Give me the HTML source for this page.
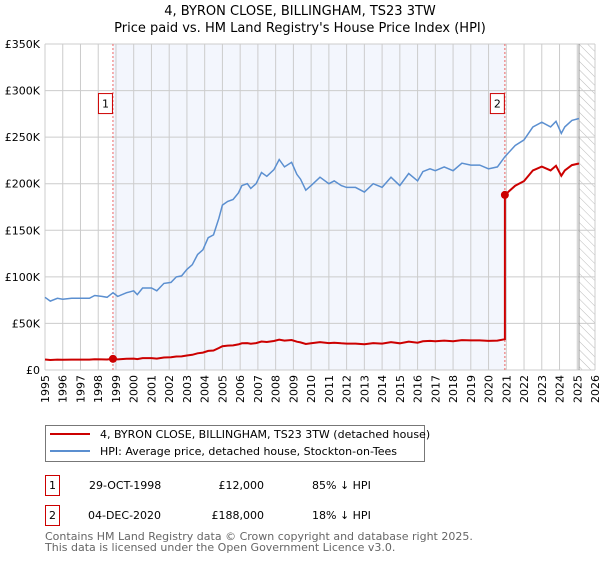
<!DOCTYPE html>
<html><head><meta charset="utf-8"><style>
body{margin:0;background:#fff;font-family:"DejaVu Sans","Liberation Sans",sans-serif;}
svg text{font-family:"DejaVu Sans","Liberation Sans",sans-serif;}
</style></head><body>
<svg id="c" width="600" height="560" viewBox="0 0 600 560">
<defs><pattern id="hatch" width="6" height="6" patternUnits="userSpaceOnUse" patternTransform="rotate(-45)"><line x1="0" y1="0" x2="0" y2="6" stroke="#bbb" stroke-width="1"/></pattern></defs>
<text x="300" y="15" text-anchor="middle" font-size="13">4, BYRON CLOSE, BILLINGHAM, TS23 3TW</text>
<text x="300" y="32" text-anchor="middle" font-size="13">Price paid vs. HM Land Registry's House Price Index (HPI)</text>
<g id="plot"></g>
<g>
<rect x="45.5" y="425.5" width="379" height="36" fill="#fff" stroke="#777"/>
<line x1="50" y1="434" x2="90" y2="434" stroke="#cc0000" stroke-width="2"/>
<text x="100" y="438" font-size="11">4, BYRON CLOSE, BILLINGHAM, TS23 3TW (detached house)</text>
<line x1="50" y1="451" x2="90" y2="451" stroke="#5b8fd0" stroke-width="2"/>
<text x="100" y="455" font-size="11">HPI: Average price, detached house, Stockton-on-Tees</text>
</g>
<g font-size="11">
<rect x="45.5" y="475.5" width="14" height="20" fill="#fff" stroke="#cc0000"/><text x="52.5" y="489" text-anchor="middle">1</text>
<text x="89" y="489">29-OCT-1998</text><text x="264" y="489" text-anchor="end">£12,000</text><text x="312" y="489">85% ↓ HPI</text>
<rect x="45.5" y="505.5" width="14" height="20" fill="#fff" stroke="#cc0000"/><text x="52.5" y="519" text-anchor="middle">2</text>
<text x="88" y="519">04-DEC-2020</text><text x="264" y="519" text-anchor="end">£188,000</text><text x="312" y="519">18% ↓ HPI</text>
</g>
<text x="45" y="540" font-size="11" fill="#666">Contains HM Land Registry data © Crown copyright and database right 2025.</text>
<text x="45" y="551" font-size="11" fill="#666">This data is licensed under the Open Government Licence v3.0.</text>
</svg>
<script>
const hpiYears=[1995,1995.3,1995.7,1996,1996.5,1997,1997.5,1997.8,1998.2,1998.5,1998.83,1999.1,1999.6,2000,2000.2,2000.5,2001,2001.3,2001.7,2002.1,2002.4,2002.7,2003,2003.3,2003.6,2003.9,2004.2,2004.5,2004.8,2005,2005.3,2005.6,2005.9,2006.1,2006.4,2006.6,2006.9,2007.2,2007.5,2007.9,2008.2,2008.5,2008.9,2009.2,2009.4,2009.7,2010,2010.5,2011,2011.3,2011.7,2012,2012.5,2013,2013.5,2014,2014.5,2015,2015.5,2016,2016.3,2016.7,2017,2017.5,2018,2018.5,2019,2019.5,2020,2020.5,2020.92,2021.5,2022,2022.5,2023,2023.5,2023.8,2024.1,2024.3,2024.7,2025.1];
const hpiValues=[78,74,77,76,77,77,77,80,79,78,83,79,83,85,81,88,88,85,93,94,100,101,108,113,124,129,142,145,163,177,181,183,190,198,200,195,200,212,208,215,226,218,223,210,205,193,198,207,200,203,198,196,196,191,200,196,207,198,211,203,213,216,214,218,214,222,220,220,216,218,229,241,247,261,266,261,267,254,261,268,270];
const saleYears=[1998.83,2020.92];
const salePrices=[12000,188000];
const yTicks=[0,50000,100000,150000,200000,250000,300000,350000];
const yTickLabels=["£0","£50K","£100K","£150K","£200K","£250K","£300K","£350K"];
const xTicks=[];for(let y=1995;y<=2026;y++)xTicks.push(y);
const X0=45,X1=595,Y0=370,Y1=44,YMIN=1995,YMAX=2026,VMAX=350000;
const sx=v=>X0+(v-YMIN)/(YMAX-YMIN)*(X1-X0);
const sy=v=>Y0-v/VMAX*(Y0-Y1);
const NS="http://www.w3.org/2000/svg";
const g=document.getElementById('plot');
function el(t,a,p){const e=document.createElementNS(NS,t);for(const k in a)e.setAttribute(k,a[k]);(p||g).appendChild(e);return e;}
let e;
e=el('rect',{x:sx(saleYears[0]),y:Y1,width:sx(saleYears[1])-sx(saleYears[0]),height:Y0-Y1,fill:'#f3f6fd'});

e=el('rect',{x:sx(2025.1),y:Y1,width:X1-sx(2025.1),height:Y0-Y1,fill:'url(#hatch)'});

xTicks.forEach(t=>{e=el('line',{x1:sx(t),x2:sx(t),y1:Y1,y2:Y0,stroke:'#ccc'});

e=el('text',{x:0,y:0,'font-size':11,'text-anchor':'end',transform:`translate(${sx(t)+4},${Y0+5}) rotate(-90)`});e.textContent=t;
});
yTicks.forEach((t,i)=>{e=el('line',{x1:X0,x2:X1,y1:sy(t),y2:sy(t),stroke:'#ccc'});

e=el('text',{x:X0-5,y:sy(t)+4,'font-size':11,'text-anchor':'end'});e.textContent=yTickLabels[i];
});
e=el('line',{x1:sx(2025.1),x2:sx(2025.1),y1:Y1,y2:Y0,stroke:'#999'});

saleYears.forEach((s,i)=>{e=el('line',{x1:sx(s),x2:sx(s),y1:Y1,y2:Y0,stroke:'#e66','stroke-dasharray':'2,2'});

e=el('rect',{x:sx(s)-14.5,y:sy(300000)+3,width:14,height:20,fill:'#fff',stroke:'#cc0000'});

e=el('text',{x:sx(s)-7.5,y:sy(300000)+17,'font-size':11,'text-anchor':'middle'});e.textContent=String(i+1);
});
const hpiAt=y=>{for(let i=1;i<hpiYears.length;i++){if(y<=hpiYears[i]){const f=(y-hpiYears[i-1])/(hpiYears[i]-hpiYears[i-1]);return (hpiValues[i-1]+f*(hpiValues[i]-hpiValues[i-1]))*1000;}}return hpiValues[hpiValues.length-1]*1000;};
let hp='';hpiYears.forEach((y,i)=>{hp+=(i?'L':'M')+sx(y).toFixed(1)+','+sy(hpiValues[i]*1000).toFixed(1);});
e=el('path',{d:hp,fill:'none',stroke:'#5b8fd0','stroke-width':1.5});

let rp='';let first=true;
hpiYears.forEach((y,i)=>{let idx=y<saleYears[1]?0:1;
if(idx===1&&first===false&&hpiYears[i-1]<saleYears[1]){rp+='L'+sx(saleYears[1]).toFixed(1)+','+sy(salePrices[0]*hpiAt(saleYears[1])/hpiAt(saleYears[0])).toFixed(1);rp+='L'+sx(saleYears[1]).toFixed(1)+','+sy(salePrices[1]).toFixed(1);}
const v=salePrices[idx]*hpiValues[i]*1000/hpiAt(saleYears[idx]);
rp+=(first?'M':'L')+sx(y).toFixed(1)+','+sy(v).toFixed(1);first=false;});
e=el('path',{d:rp,fill:'none',stroke:'#cc0000','stroke-width':2});

saleYears.forEach((s,i)=>{e=el('circle',{cx:sx(s),cy:sy(salePrices[i]),r:4,fill:'#cc0000'});
});
</script>
</body></html>
